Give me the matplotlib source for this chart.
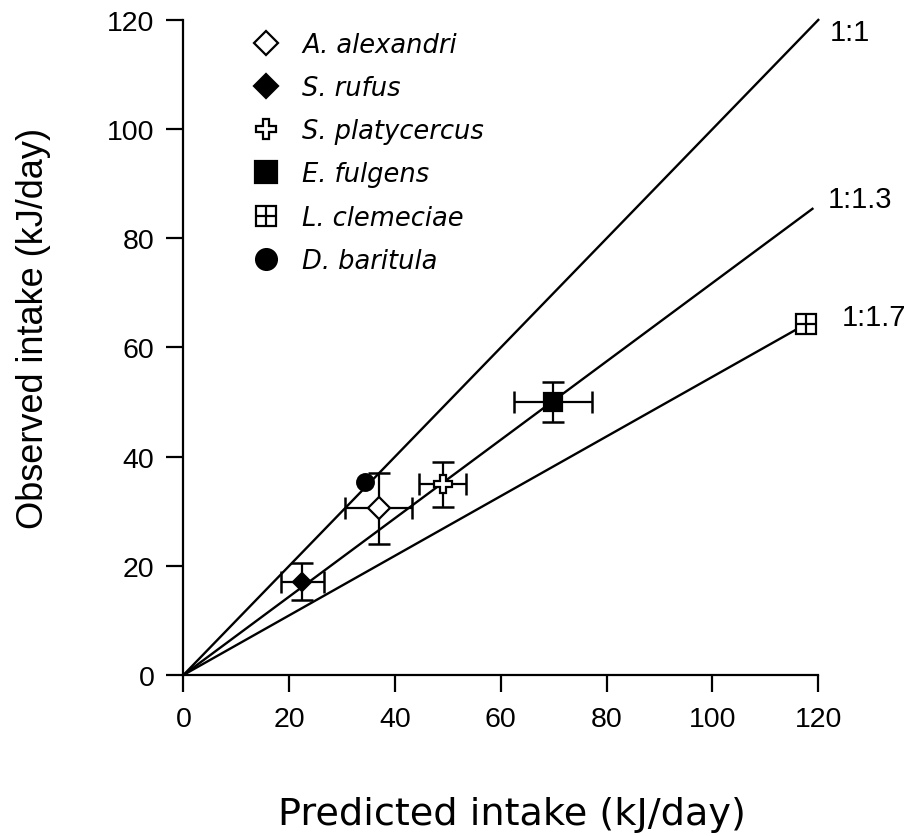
import matplotlib
matplotlib.use("Agg")
import matplotlib.pyplot as plt
from matplotlib.lines import Line2D
from matplotlib.legend_handler import HandlerTuple

# species means, kJ/day
species = ["A. alexandri", "S. rufus", "S. platycercus", "E. fulgens", "L. clemeciae", "D. baritula"]
predicted = [36.9, 22.5, 49.0, 69.8, 117.7, 34.4]
observed = [30.5, 17.1, 34.9, 50.0, 64.3, 35.3]
pred_err = [6.3, 4.1, 4.4, 7.4, 0.0, 0.0]
obs_err = [6.5, 3.4, 4.2, 3.75, 0.0, 0.0]

# reference lines (observed:predicted), drawn from origin to end point
ratio_labels = ["1:1", "1:1.3", "1:1.7"]
ratio_x_end = [120, 118.9, 117.7]
ratio_y_end = [120, 85.4, 64.3]
ratio_label_x = [122.2, 121.8, 124.5]
ratio_label_y = [117.8, 87.2, 65.6]

xticks = [0, 20, 40, 60, 80, 100, 120]
yticks = [0, 20, 40, 60, 80, 100, 120]

sans = ["Liberation Sans", "DejaVu Sans"]

# marker style per species: (marker, facecolor, size in plot, size in legend)
styles = {
    "A. alexandri": ("D", "white", 11, 12),
    "S. rufus": ("D", "black", 9.5, 12),
    "S. platycercus": ("P", "white", 13, 15),
    "E. fulgens": ("s", "black", 13, 16),
    "L. clemeciae": ("s", "white", 15, 15),
    "D. baritula": ("o", "black", 12, 15),
}

fig = plt.figure(figsize=(9.15, 8.37), dpi=100)
ax = fig.add_axes([0.2005, 0.1924, 0.6938, 0.7826])

for lab, xe, ye, lx, ly in zip(ratio_labels, ratio_x_end, ratio_y_end, ratio_label_x, ratio_label_y):
    ax.plot([0, xe], [0, ye], color="black", lw=1.7, zorder=1, clip_on=False)
    ax.text(lx, ly, lab, fontsize=21, family=sans, ha="left", va="center", clip_on=False)

handles = []
for i, sp in enumerate(species):
    m, fc, ms, lms = styles[sp]
    if pred_err[i] > 0 or obs_err[i] > 0:
        ax.errorbar(predicted[i], observed[i], xerr=pred_err[i], yerr=obs_err[i],
                    fmt="none", ecolor="black", elinewidth=1.6, capsize=8, capthick=1.8,
                    zorder=2, clip_on=False)
    ax.plot(predicted[i], observed[i], marker=m, ms=ms, mfc=fc, mec="black", mew=1.6,
            ls="none", zorder=3, clip_on=False)
    h = Line2D([], [], marker=m, ms=lms, mfc=fc, mec="black", mew=1.6, ls="none")
    if sp == "L. clemeciae":
        ax.plot(predicted[i], observed[i], marker="+", ms=ms, mec="black", mew=1.6,
                ls="none", zorder=4, clip_on=False)
        h = (h, Line2D([], [], marker="+", ms=lms, mec="black", mew=1.6, ls="none"))
    handles.append(h)

ax.legend(handles, species, loc="upper left", bbox_to_anchor=(0.2785, 0.961),
          bbox_transform=fig.transFigure, frameon=False, borderpad=0, borderaxespad=0,
          handlelength=0.85, handletextpad=1.0, labelspacing=0.67,
          prop={"family": "DejaVu Sans", "style": "italic", "size": 18.5},
          handler_map={tuple: HandlerTuple(ndivide=1)})

ax.set_xlim(0, 120)
ax.set_ylim(0, 120)
ax.set_xticks(xticks)
ax.set_yticks(yticks)
ax.spines["top"].set_visible(False)
ax.spines["right"].set_visible(False)
ax.spines["left"].set_linewidth(1.6)
ax.spines["bottom"].set_linewidth(1.6)
ax.tick_params(direction="out", length=12, width=1.6, labelsize=20.5)
ax.tick_params(axis="x", pad=10)
ax.tick_params(axis="y", pad=9)
for t in ax.get_xticklabels() + ax.get_yticklabels():
    t.set_family(sans)

fig.text(0.5596, 0.026, "Predicted intake (kJ/day)", fontsize=27.5, family="DejaVu Sans",
         ha="center", va="center")
fig.text(34 / 915, 1 - 328.5 / 837, "Observed intake (kJ/day)", fontsize=26, family=sans,
         rotation=90, ha="center", va="center")

fig.savefig("out.png", dpi=100)
